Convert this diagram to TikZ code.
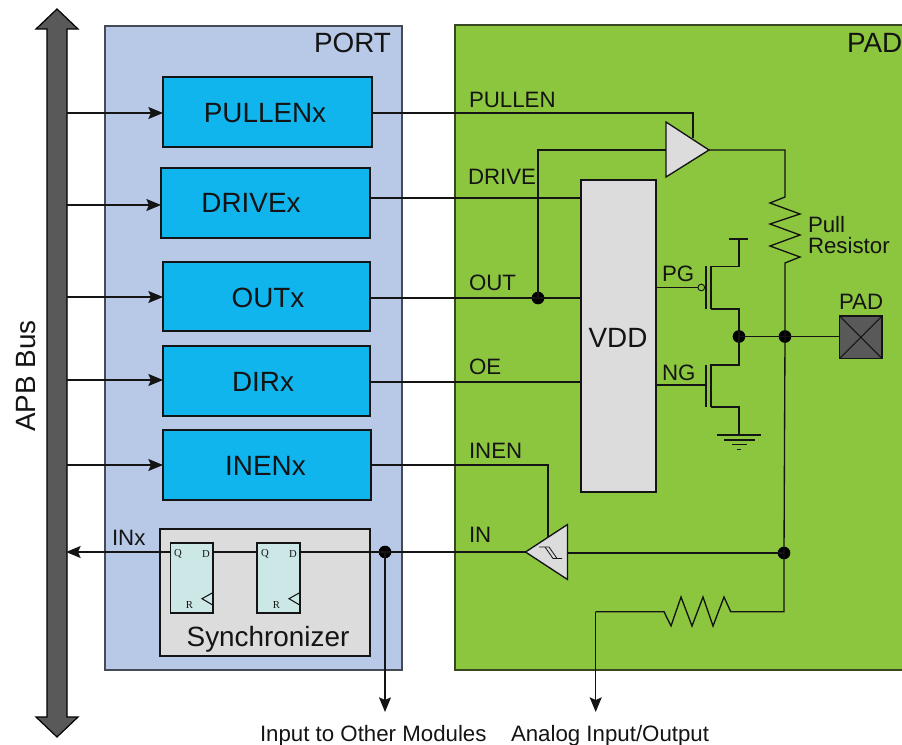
\documentclass[tikz,border=0pt]{standalone}
\usepackage{fontspec}
\setmainfont{Liberation Sans}
\newfontfamily\ffserif{Liberation Serif}
\usetikzlibrary{arrows.meta}
\definecolor{portblue}{HTML}{B8C9E8}
\definecolor{padgreen}{HTML}{8CC63F}
\definecolor{regcyan}{HTML}{10B5EE}
\definecolor{lgray}{HTML}{DCDCDC}
\definecolor{dgray}{HTML}{595959}
\definecolor{ffcyan}{HTML}{CCE8E6}
\definecolor{ink}{HTML}{141414}
\newcommand{\pxbox}[7][]{\node[pxrect,#1,minimum width={(#5-#3)*0.75pt},minimum height={(#6-#4)*0.75pt}] (#2) at ({(#3+#5)/2},{(#4+#6)/2}) {#7};}
\tikzset{
  x=0.75pt,y=-0.75pt,
  pxrect/.style={rectangle,inner sep=0pt,outer sep=0pt,line width=0.9pt,draw=ink},
  wire/.style={line width=1pt,draw=ink,line join=miter},
  thin wire/.style={line width=0.8pt,draw=ink,line join=miter},
  arr/.style={wire,-{Stealth[length=11pt,width=9pt,inset=2pt]}},
  dot/.style={circle,fill=black,draw=none,minimum size=9.5pt,inner sep=0pt,outer sep=0pt},
  big/.style={font=\fontsize{20.9}{24}\selectfont,text=ink,inner sep=0pt,outer sep=0pt,anchor=base},
  small/.style={font=\fontsize{16.7}{20}\selectfont,text=ink,inner sep=0pt,outer sep=0pt,anchor=base west},
  ffl/.style={font=\ffserif\fontsize{8}{9}\selectfont,text=ink,inner sep=0pt,outer sep=0pt},
  ffbox/.style={fill=ffcyan},
  gate/.style={line width=1pt,draw=ink,fill=lgray,line join=miter},
}
\begin{document}
\begin{tikzpicture}
\useasboundingbox (0,0) rectangle (902,745);
% panels
\pxbox[fill=portblue,draw=ink!70!portblue]{port}{105}{26}{402}{670}{}
\pxbox[fill=padgreen,draw=none]{pad}{455}{25}{902}{670}{}
\coordinate (padA) at (902,25); \coordinate (padB) at (455,25);
\coordinate (padC) at (455,670); \coordinate (padD) at (902,670);
\draw[line width=0.9pt,draw=ink!70!padgreen] (padA) -- (padB) -- (padC) -- (padD);
\node[big,anchor=base east] (portl) at (391,53) {PORT};
\node[big,anchor=base west] (padl) at (847,53) {PAD};
% bus
\coordinate (b1) at (57,9); \coordinate (b2) at (78,29); \coordinate (b3) at (67,29);
\coordinate (b4) at (67,717); \coordinate (b5) at (78,717); \coordinate (b6) at (57,737);
\coordinate (b7) at (36,717); \coordinate (b8) at (47,717); \coordinate (b9) at (47,29); \coordinate (b10) at (36,29);
\draw[fill=dgray,draw=black,line width=0.9pt,line join=miter] (b1) -- (b2) -- (b3) -- (b4) -- (b5) -- (b6) -- (b7) -- (b8) -- (b9) -- (b10) -- cycle;
\node[big,rotate=90,anchor=center] (apb) at (26,376) {APB Bus};
% registers
\pxbox[fill=regcyan]{pullenx}{163}{77}{372}{147}{}
\pxbox[fill=regcyan]{drivex}{161}{168}{370}{238}{}
\pxbox[fill=regcyan]{outx}{163}{262}{370}{331}{}
\pxbox[fill=regcyan]{dirx}{163}{346}{370}{416}{}
\pxbox[fill=regcyan]{inenx}{163}{430}{371}{500}{}
\node[big] (pullenxt) at (265,123) {PULLENx};
\node[big] (drivext) at (251,213) {DRIVEx};
\node[big] (outxt) at (268,307) {OUTx};
\node[big] (dirxt) at (263,391) {DIRx};
\node[big] (inenxt) at (265.5,475) {INENx};
% bus arrows
\coordinate (a1) at (67,113); \coordinate (a2) at (66,205); \coordinate (a3) at (67,297);
\coordinate (a4) at (67,380); \coordinate (a5) at (67,465);
\draw[arr] (a1) -- (a1 -| pullenx.west);
\draw[arr] (a2) -- (a2 -| drivex.west);
\draw[arr] (a3) -- (a3 -| outx.west);
\draw[arr] (a4) -- (a4 -| dirx.west);
\draw[arr] (a5) -- (a5 -| inenx.west);
% synchronizer
\pxbox[fill=lgray]{sync}{160}{529}{370}{656}{}
\node[big] (synct) at (268,646) {Synchronizer};
\coordinate (bw) at (66,552);
\pxbox[ffbox]{ffa}{170.5}{543}{213}{613}{}
\pxbox[ffbox]{ffb}{257}{543}{300}{613}{}
\node[ffl] (qa) at (178,554) {Q}; \node[ffl] (da) at (206,554) {D}; \node[ffl] (ra) at (189.5,605) {R};
\node[ffl] (qb) at (265,554) {Q}; \node[ffl] (db) at (293,554) {D}; \node[ffl] (rb) at (276.5,605) {R};
\coordinate (ca1) at (212.7,592.7); \coordinate (ca2) at (202,598.7); \coordinate (ca3) at (212.7,605);
\coordinate (cb1) at (299.7,592.7); \coordinate (cb2) at (289,598.7); \coordinate (cb3) at (299.7,605);
\draw[thin wire] (ca1) -- (ca2) -- (ca3);
\draw[thin wire] (cb1) -- (cb2) -- (cb3);
\node[small] (inxl) at (112,545) {INx};
\draw[arr] (ffa.west |- bw) -- (bw);
\draw[wire] (ffa.east |- bw) -- (ffb.west |- bw);
% VDD
\pxbox[fill=lgray]{vdd}{581}{180}{656}{492}{}
\node[big] (vddl) at (618,347) {VDD};
% wire labels
\node[small] (l1) at (469,108) {PULLEN};
\node[small] (l2) at (468,185) {DRIVE};
\node[small] (l3) at (469,290) {OUT};
\node[small] (l4) at (469,374) {OE};
\node[small] (l5) at (469,458) {INEN};
\node[small] (l6) at (469,542) {IN};
\node[small] (pgl) at (662,281) {PG};
\node[small] (ngl) at (662,380) {NG};
\node[small] (pull) at (808,233) {Pull};
\node[small] (resl) at (808,253) {Resistor};
\node[small] (padn) at (839,309) {PAD};
% pull-up buffer wires
\coordinate (pu1) at (693,113); \coordinate (pu2) at (693,138);
\draw[wire] (pullenx.east |- pu1) -- (pu1) -- (pu2);
\node[dot] (outdot) at (538,298) {};
\coordinate (bufin) at (538,150);
\coordinate (bufT) at (666,122); \coordinate (bufB) at (666,177); \coordinate (bufO) at (709,150);
\draw[wire] (outdot.center) -- (bufin) -- (bufin -| bufT);
\coordinate (r0) at (785,150); \coordinate (r1) at (785,197);
\coordinate (z1) at (770,203); \coordinate (z2) at (800,214); \coordinate (z3) at (770,224);
\coordinate (z4) at (800,235); \coordinate (z5) at (770,246); \coordinate (z6) at (800,257);
\coordinate (r2) at (785,263);
\node[dot] (nodeP) at (785,336.5) {};
\node[dot] (nodeQ) at (784,553) {};
\draw[wire] (bufO) -- (r0) -- (r1) -- (z1) -- (z2) -- (z3) -- (z4) -- (z5) -- (z6) -- (r2) -- (nodeP.center);
\draw[wire] (nodeP.center) -- (nodeQ.center);
\draw[gate] (bufT) -- (bufB) -- (bufO) -- cycle;
% VDD inputs
\coordinate (w2) at (370,198); \coordinate (w4) at (370,382);
\draw[wire] (drivex.east |- w2) -- (vdd.west |- w2);
\draw[wire] (outx.east |- outdot) -- (vdd.west |- outdot);
\draw[wire] (dirx.east |- w4) -- (vdd.west |- w4);
% PMOS
\coordinate (pgin) at (656,287.5);
\node[circle,draw=ink,fill=padgreen,line width=0.7pt,minimum size=5pt,inner sep=0pt,outer sep=0pt] (bub) at (701.3,287.5) {};
\draw[wire] (pgin) -- (bub.west);
\coordinate (pg1) at (706,266); \coordinate (pg2) at (706,309);
\draw[wire] (pg1) -- (pg2);
\coordinate (pc1) at (711,266.5); \coordinate (pc2) at (739,266.5); \coordinate (pc3) at (739,239);
\coordinate (pc4) at (711,309); \coordinate (pc5) at (739,309);
\coordinate (vt1) at (729,239); \coordinate (vt2) at (748,239);
\node[dot] (nodeM) at (739,336.5) {};
\draw[wire] (pc1 |- pc4) -- (pc1) -- (pc2) -- (pc3);
\draw[wire] (vt1) -- (vt2);
\draw[wire] (pc4) -- (pc5) -- (nodeM.center);
% NMOS
\coordinate (ngin) at (656,385); \coordinate (ng1) at (706,365); \coordinate (ng2) at (706,407);
\draw[wire] (ngin) -- (ngin -| ng1);
\draw[wire] (ng1) -- (ng2);
\coordinate (nc1) at (711,365); \coordinate (nc2) at (739,365);
\coordinate (nc3) at (711,407); \coordinate (nc4) at (739,407); \coordinate (nc5) at (739,435);
\draw[wire] (nc3) -- (nc1) -- (nc2) -- (nodeM.center);
\draw[wire] (nc3) -- (nc4) -- (nc5);
\coordinate (g1a) at (717,435); \coordinate (g1b) at (761,435);
\coordinate (g2a) at (724,440); \coordinate (g2b) at (755,440);
\coordinate (g3a) at (732,444.5); \coordinate (g3b) at (747,444.5);
\coordinate (g4a) at (737,449.5); \coordinate (g4b) at (741,449.5);
\draw[wire] (g1a) -- (g1b); \draw[wire] (g2a) -- (g2b); \draw[wire] (g3a) -- (g3b); \draw[wire] (g4a) -- (g4b);
% PAD
\pxbox[fill=dgray]{padsq}{839.5}{316}{882}{358.5}{}
\draw[thin wire] (padsq.north west) -- (padsq.south east);
\draw[thin wire] (padsq.south west) -- (padsq.north east);
\draw[wire] (nodeM.center) -- (nodeP.center);
\draw[wire] (nodeP.center) -- (padsq.west |- nodeP);
% input path
\coordinate (st) at (525.5,552); \coordinate (su) at (567.5,524.5); \coordinate (sd) at (567.5,579.5);
\coordinate (en1) at (548,465); \coordinate (en2) at (548,537);
\draw[wire] (inenx.east |- en1) -- (en1) -- (en2);
\node[dot] (nodeI) at (385,552) {};
\draw[wire] (ffb.east |- bw) -- (nodeI.center) -- (st);
\draw[wire] (su |- nodeQ) -- (nodeQ.center);
\draw[gate] (st) -- (su) -- (sd) -- cycle;
\coordinate (h1) at (539,547); \coordinate (h2) at (549,547); \coordinate (h3) at (557,558.5); \coordinate (h4) at (562,558.5);
\coordinate (h5) at (545,547); \coordinate (h6) at (553,558.5);
\draw[line width=0.6pt,draw=ink] (h1) -- (h2) -- (h3) -- (h4);
\draw[line width=0.6pt,draw=ink] (h5) -- (h6) -- (h3);
\coordinate (out1) at (385,712);
\draw[arr] (nodeI.center) -- (out1);
\node[small] (inputl) at (260,741) {Input to Other Modules};
% analog
\coordinate (an0) at (784,611.7); \coordinate (an1) at (730.7,611.7);
\coordinate (an2) at (724,597); \coordinate (an3) at (713,626); \coordinate (an4) at (703,597);
\coordinate (an5) at (692,626); \coordinate (an6) at (681,597); \coordinate (an7) at (671,626);
\coordinate (an8) at (664,611.7); \coordinate (an9) at (595.7,611.7); \coordinate (an10) at (595.7,712);
\draw[wire] (nodeQ.center) -- (an0) -- (an1) -- (an2) -- (an3) -- (an4) -- (an5) -- (an6) -- (an7) -- (an8) -- (an9);
\draw[arr] (an9) -- (an10);
\node[small] (analogl) at (511,741) {Analog Input/Output};
\end{tikzpicture}
\end{document}
